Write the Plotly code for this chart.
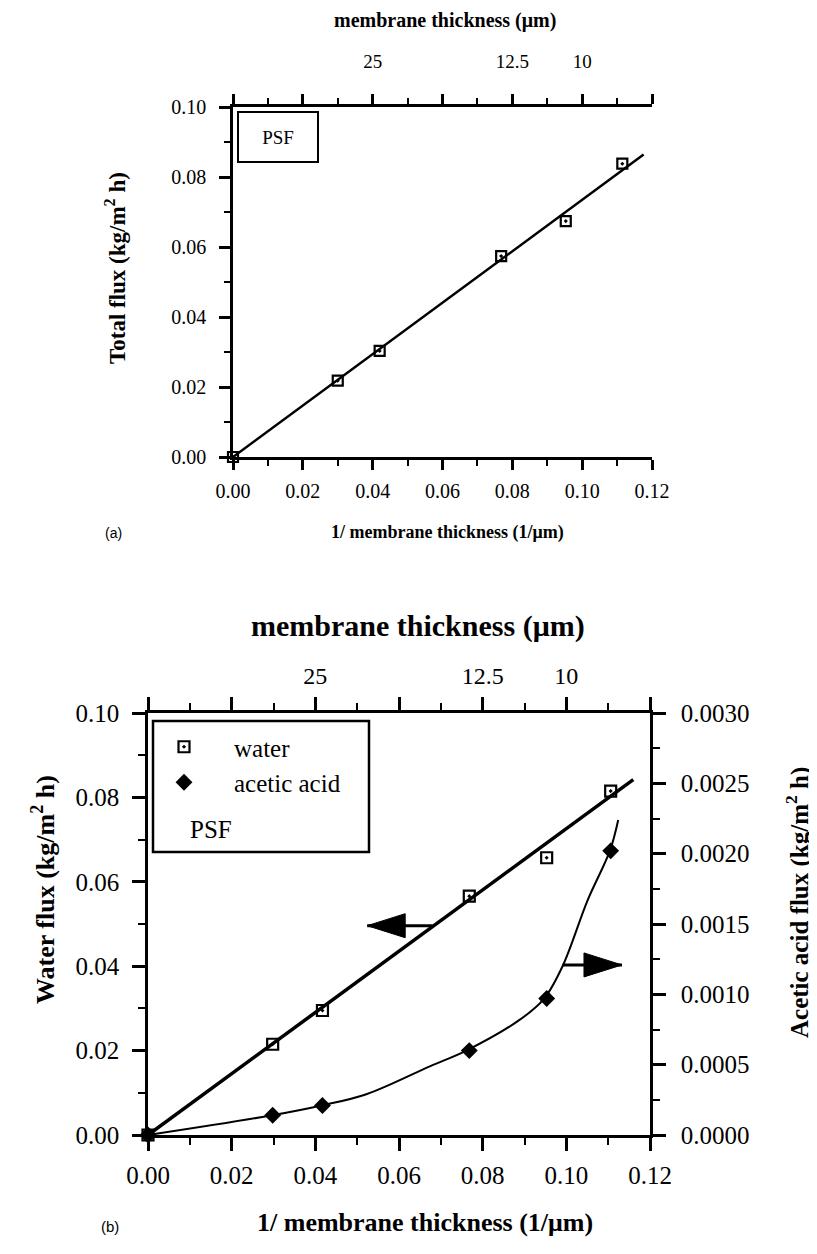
import plotly.graph_objects as go

# ---------------- data ----------------
# panel (a): total flux vs 1/thickness
inv_thick_a = [0.0, 0.0300, 0.0420, 0.0768, 0.0953, 0.1115]
total_flux_a = [0.0, 0.0218, 0.0303, 0.0574, 0.0674, 0.0838]
fit_a_x = [0.0, 0.1176]
fit_a_y = [0.0, 0.0864]

# panel (b): water and acetic acid flux vs 1/thickness
inv_thick_b = [0.0, 0.0298, 0.0417, 0.0768, 0.0953, 0.1106]
water_flux_b = [0.0, 0.0215, 0.0295, 0.0566, 0.0657, 0.0815]
acid_flux_b = [0.0, 0.00014, 0.00021, 0.00060, 0.00097, 0.00202]
fit_water_x = [0.0, 0.116]
fit_water_y = [0.0, 0.0842]
curve_acid_x = [0.0, 0.0296, 0.0415, 0.0522, 0.0675, 0.0761, 0.0889, 0.0947, 0.0991, 0.1051, 0.1104, 0.1124]
curve_acid_y = [0.0, 0.00014, 0.00021, 0.00029, 0.00049, 0.00060, 0.00082, 0.00097, 0.00120, 0.00167, 0.00202, 0.00224]

# top-axis labels: membrane thickness (um) shown at 1/thickness
thickness_labels = [25, 12.5, 10]
major_x = [0.0, 0.02, 0.04, 0.06, 0.08, 0.10, 0.12]
minor_x = [0.01, 0.03, 0.05, 0.07, 0.09, 0.11]

# arrows (data coords): head x, tail x, y (left-axis units)
arrow_left = dict(head=0.0524, tail=0.0680, y=0.0496)
arrow_right = dict(head=0.1133, tail=0.0991, y=0.0403)

# the page body has an 8px default margin: size the figure so it fills the window
PAGE_W, PAGE_H = 817, 1254
OFF = 8
W, H = PAGE_W - OFF, PAGE_H - 2 * OFF
SERIF = "Liberation Serif"
SANS = "Liberation Sans"


def px_x(p):
    return (p - OFF) / W


def px_y(p):
    return 1 - (p - OFF) / H


# panel boxes in page pixels
A = dict(l=233, r=652, t=107, b=457)
B = dict(l=148, r=650, t=713, b=1135)

fig = go.Figure()

# ----- panel (a) -----
fig.add_trace(go.Scatter(x=fit_a_x, y=fit_a_y, mode="lines",
                         line=dict(color="black", width=2.5),
                         xaxis="x", yaxis="y", showlegend=False, hoverinfo="skip"))
fig.add_trace(go.Scatter(x=inv_thick_a, y=total_flux_a, mode="markers",
                         marker=dict(symbol="square-open-dot", size=10, color="black",
                                     line=dict(width=2.2, color="black")),
                         xaxis="x", yaxis="y", showlegend=False, cliponaxis=False))
# carrier for the top (thickness) axis of panel (a)
fig.add_trace(go.Scatter(x=inv_thick_a, y=total_flux_a, mode="markers",
                         marker=dict(opacity=0), xaxis="x3", yaxis="y",
                         showlegend=False, hoverinfo="skip"))

# ----- panel (b) -----
fig.add_trace(go.Scatter(x=fit_water_x, y=fit_water_y, mode="lines",
                         line=dict(color="black", width=3.5),
                         xaxis="x2", yaxis="y2", showlegend=False, hoverinfo="skip"))
fig.add_trace(go.Scatter(x=curve_acid_x, y=curve_acid_y, mode="lines",
                         line=dict(color="black", width=2, shape="spline", smoothing=1.0),
                         xaxis="x2", yaxis="y3", showlegend=False, hoverinfo="skip"))
fig.add_trace(go.Scatter(x=inv_thick_b, y=water_flux_b, mode="markers", name="water",
                         marker=dict(symbol="square-open-dot", size=11, color="black",
                                     line=dict(width=2.2, color="black")),
                         xaxis="x2", yaxis="y2", cliponaxis=False))
fig.add_trace(go.Scatter(x=inv_thick_b, y=acid_flux_b, mode="markers", name="acetic acid",
                         marker=dict(symbol="diamond", size=13, color="black"),
                         xaxis="x2", yaxis="y3", cliponaxis=False))
# carrier for the top (thickness) axis of panel (b)
fig.add_trace(go.Scatter(x=inv_thick_b, y=water_flux_b, mode="markers",
                         marker=dict(opacity=0), xaxis="x4", yaxis="y2",
                         showlegend=False, hoverinfo="skip"))

tickfont_a = dict(family=SERIF, size=20, color="black")
tickfont_b = dict(family=SERIF, size=25, color="black")
tickfont_top_a = dict(family=SERIF, size=19, color="black")
tickfont_top_b = dict(family=SERIF, size=24, color="black")


def bottom_x(domain, tickfont, ticklen, anchor, standoff):
    return dict(domain=domain, range=[0, 0.12], anchor=anchor,
                showline=True, linecolor="black", linewidth=2.5, mirror="ticks",
                ticks="outside", ticklen=ticklen, tickwidth=2.5, tickcolor="black",
                tickvals=major_x, tickformat=".2f", showgrid=False, zeroline=False,
                tickfont=tickfont, fixedrange=True, ticklabelstandoff=standoff,
                minor=dict(tickvals=minor_x, ticks="outside", ticklen=int(ticklen * 0.6),
                           tickwidth=2, tickcolor="black"))


top_vals = [1.0 / t for t in thickness_labels]
top_text = [str(t) for t in thickness_labels]


def top_x(domain, tickfont, standoff, anchor, overlay):
    return dict(domain=domain, range=[0, 0.12], anchor=anchor, overlaying=overlay,
                side="top", showline=False, showgrid=False, zeroline=False,
                ticks="outside", ticklen=standoff, tickcolor="rgba(0,0,0,0)",
                tickvals=top_vals, ticktext=top_text, tickfont=tickfont, fixedrange=True)


def left_y(domain, rng, dtick, fmt, tickfont, ticklen, anchor, standoff, minor_dtick, **kw):
    d = dict(domain=domain, range=rng, showline=True, linecolor="black", linewidth=2.5,
             ticks="outside", ticklen=ticklen, tickwidth=2.5, tickcolor="black",
             dtick=dtick, tickformat=fmt, showgrid=False, zeroline=False,
             tickfont=tickfont, anchor=anchor, fixedrange=True, ticklabelstandoff=standoff,
             minor=dict(dtick=minor_dtick, ticks="outside", ticklen=int(ticklen * 0.6),
                        tickwidth=2, tickcolor="black"))
    d.update(kw)
    return d


fig.update_layout(
    width=W, height=H, autosize=False,
    margin=dict(l=0, r=0, t=0, b=0, autoexpand=False),
    paper_bgcolor="white", plot_bgcolor="white",
    font=dict(family=SERIF, color="black"),
    xaxis=bottom_x([px_x(A["l"]), px_x(A["r"])], tickfont_a, 10, "y", 4),
    xaxis3=top_x([px_x(A["l"]), px_x(A["r"])], tickfont_top_a, 30, "y", "x"),
    yaxis=left_y([px_y(A["b"]), px_y(A["t"])], [0, 0.10], 0.02, ".2f", tickfont_a, 11, "x", 9, 0.01),
    xaxis2=bottom_x([px_x(B["l"]), px_x(B["r"])], tickfont_b, 13, "y2", 3),
    xaxis4=top_x([px_x(B["l"]), px_x(B["r"])], tickfont_top_b, 18, "y2", "x2"),
    yaxis2=left_y([px_y(B["b"]), px_y(B["t"])], [0, 0.10], 0.02, ".2f", tickfont_b, 13, "x2", 8, 0.01),
    yaxis3=left_y([px_y(B["b"]), px_y(B["t"])], [0, 0.003], 0.0005, ".4f", tickfont_b, 13, "x2", 10,
                  0.00025, overlaying="y2", side="right"),
    legend=dict(x=px_x(134), y=px_y(724), xanchor="left", yanchor="top",
                bgcolor="rgba(0,0,0,0)", borderwidth=0,
                font=dict(family=SERIF, size=25, color="black"),
                itemwidth=90, tracegroupgap=0),
    showlegend=True,
)

ann = []


def text(x, y, s, size, bold=True, family=SERIF, angle=0, xanchor="center"):
    ann.append(dict(x=px_x(x), y=px_y(y), xref="paper", yref="paper",
                    text=f"<b>{s}</b>" if bold else s,
                    showarrow=False, font=dict(family=family, size=size, color="black"),
                    textangle=angle, xanchor=xanchor, yanchor="middle"))


# panel (a) titles
text(445, 21, "membrane thickness (μm)", 20)
text(447, 532, "1/ membrane thickness (1/μm)", 18)
text(116, 268, "Total flux (kg/m<sup>2</sup> h)", 23, angle=-90)
text(113, 533, "(a)", 14, bold=False, family=SANS)
# panel (b) titles
text(418, 626, "membrane thickness (μm)", 30)
text(425, 1222, "1/ membrane thickness (1/μm)", 26)
text(43, 890, "Water flux (kg/m<sup>2</sup> h)", 26, angle=-90)
text(797, 903, "Acetic acid flux (kg/m<sup>2</sup> h)", 25, angle=-90)
text(110, 1226, "(b)", 15, bold=False, family=SANS)
# PSF labels
ann.append(dict(x=px_x(278), y=px_y(137), xref="paper", yref="paper", text="PSF", showarrow=False,
                font=dict(family=SERIF, size=19, color="black"), bordercolor="black", borderwidth=2,
                width=76, height=46, xanchor="center", yanchor="middle"))
text(188, 829, "PSF", 25, bold=False, xanchor="left")
fig.update_layout(annotations=ann)

# legend frame for panel (b)
fig.add_shape(type="rect", xref="paper", yref="paper", x0=px_x(153), x1=px_x(369),
              y0=px_y(852), y1=px_y(721), line=dict(color="black", width=2.5))

# arrows: shaft lines + triangular heads sized in pixels
for a, direction in ((arrow_left, -1), (arrow_right, 1)):
    fig.add_shape(type="line", xref="x2", yref="y2", x0=a["tail"], x1=a["head"], y0=a["y"], y1=a["y"],
                  line=dict(color="black", width=3))
    L, hw = 38, 12
    path = f"M0,0 L{-direction*L},{hw} L{-direction*L},{-hw} Z"
    fig.add_shape(type="path", xref="x2", yref="y2", xsizemode="pixel", ysizemode="pixel",
                  xanchor=a["head"], yanchor=a["y"], path=path,
                  fillcolor="black", line=dict(color="black", width=1))

fig.write_html("out.html")
